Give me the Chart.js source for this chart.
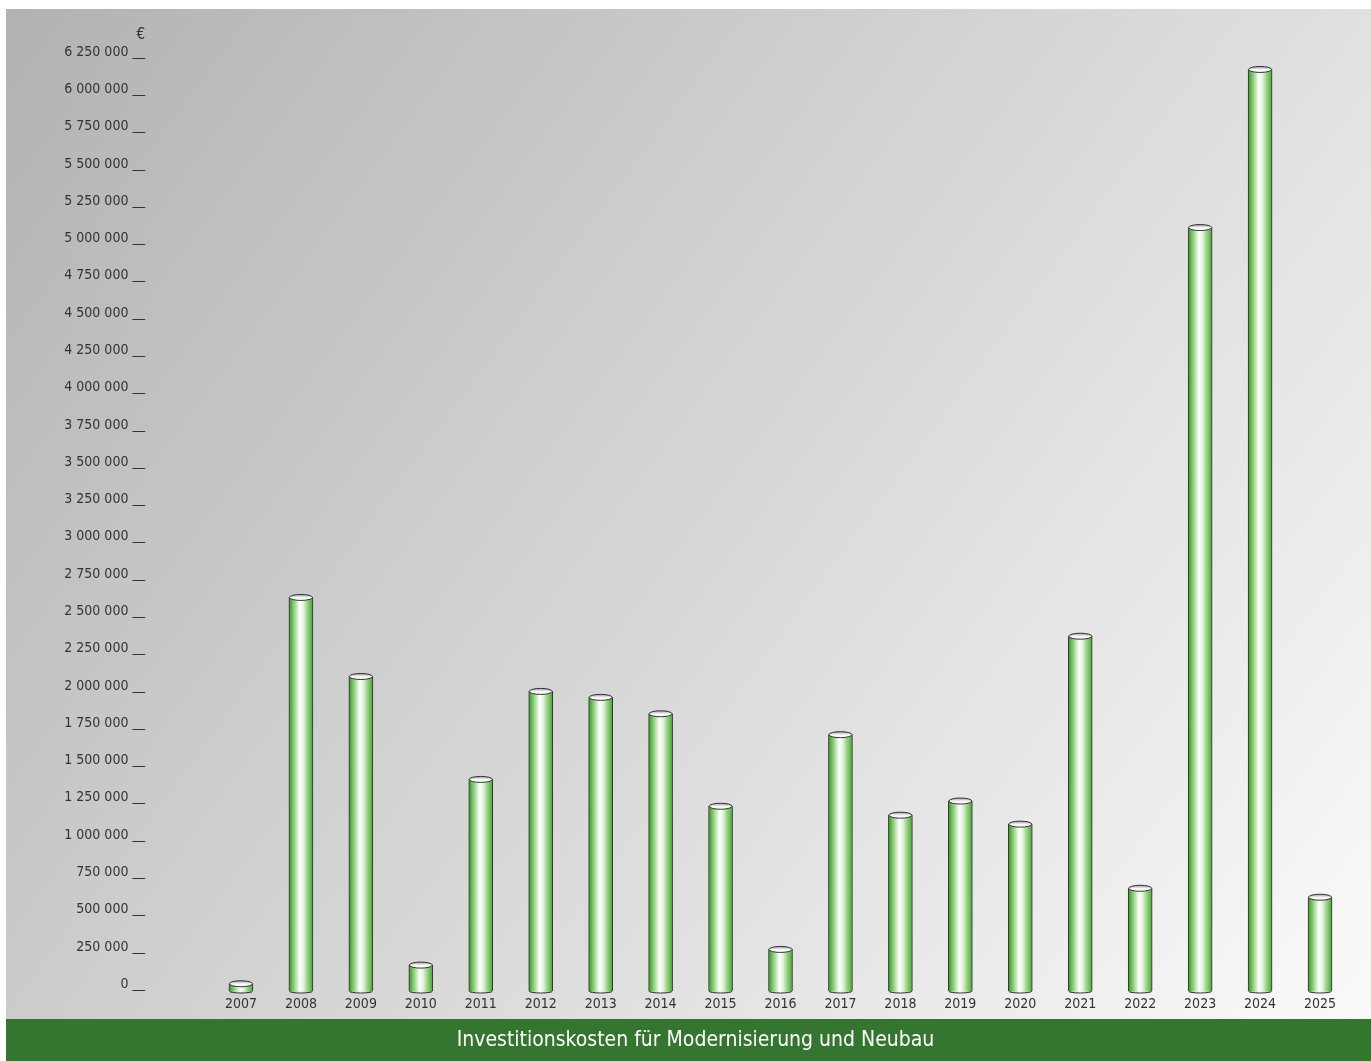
<!DOCTYPE html>
<html>
<head>
<meta charset="utf-8">
<script src="https://cdn.jsdelivr.net/npm/chart.js@4.4.1/dist/chart.umd.min.js"></script>
<style>
  html, body { margin: 0; padding: 0; background: #ffffff; }
  #wrap { position: absolute; left: 6px; top: 9px; width: 1365px; height: 1052px; }
</style>
</head>
<body>
<div id="wrap"><canvas id="invest"></canvas></div>
<script>
// Data
const years = ['2007', '2008', '2009', '2010', '2011', '2012', '2013', '2014', '2015', '2016',
               '2017', '2018', '2019', '2020', '2021', '2022', '2023', '2024', '2025'];
const costs = [50000, 2640000, 2110000, 175000, 1420000, 2010000, 1970000, 1860000, 1240000, 280000,
               1720000, 1180000, 1275000, 1120000, 2380000, 690000, 5120000, 6180000, 630000];
const yMax = 6250000;
const yStep = 250000;
const currencyLabel = '€';
const chartTitle = 'Investitionskosten für Modernisierung und Neubau';

const FONT = '"Liberation Sans Narrow", "DejaVu Sans Condensed", "Liberation Sans", sans-serif';
const BAR_W = 24;
const BAND_H = 42;
const LABEL_GAP = 66;

function formatNumber(v) {
    return String(v).replace(/\B(?=(\d{3})+(?!\d))/g, ' ');
}

// horizontal cylinder shading for one bar
function barGradient(ctx, x, w) {
    const g = ctx.createLinearGradient(x - w / 2, 0, x + w / 2, 0);
    g.addColorStop(0, '#3f8f30');
    g.addColorStop(0.1, '#5fb14a');
    g.addColorStop(0.25, '#a0d88f');
    g.addColorStop(0.45, '#ffffff');
    g.addColorStop(0.6, '#e4f4de');
    g.addColorStop(0.78, '#94d182');
    g.addColorStop(0.92, '#64b650');
    g.addColorStop(1, '#48983a');
    return g;
}

// background gradient + green title band
const backdrop = {
    id: 'backdrop',
    beforeDraw(chart) {
        const { ctx, width, height } = chart;
        const bgH = height - BAND_H;
        ctx.save();
        const g = ctx.createLinearGradient(0, 0, width, bgH);
        g.addColorStop(0, '#b2b2b2');
        g.addColorStop(1, '#fafafa');
        ctx.fillStyle = g;
        ctx.fillRect(0, 0, width, bgH);
        ctx.fillStyle = '#34752f';
        ctx.fillRect(0, bgH, width, BAND_H);
        ctx.fillStyle = '#ffffff';
        ctx.font = '21px ' + FONT;
        ctx.textAlign = 'center';
        ctx.textBaseline = 'middle';
        ctx.fillText(chartTitle, width / 2 + 7, bgH + BAND_H / 2 + 1);
        ctx.restore();
    }
};

// cylinder caps and the euro sign above the axis
const cylinders = {
    id: 'cylinders',
    afterDatasetsDraw(chart) {
        const ctx = chart.ctx;
        const meta = chart.getDatasetMeta(0);
        ctx.save();
        ctx.lineWidth = 1;
        ctx.strokeStyle = '#333333';
        meta.data.forEach(bar => {
            const { x, y, base, width } = bar.getProps(['x', 'y', 'base', 'width'], true);
            const rx = width / 2 - 0.5;
            const ry = 3;
            // rounded bottom
            ctx.beginPath();
            ctx.ellipse(x, base, rx, 1.8, 0, 0, Math.PI);
            ctx.closePath();
            ctx.fillStyle = barGradient(ctx, x, width);
            ctx.fill();
            ctx.beginPath();
            ctx.ellipse(x, base, rx, 1.8, 0, 0, Math.PI);
            ctx.stroke();
            // top cap
            const cg = ctx.createLinearGradient(0, y - ry, 0, y + ry);
            cg.addColorStop(0, '#9a9a9a');
            cg.addColorStop(0.5, '#f4f4f4');
            cg.addColorStop(1, '#ffffff');
            ctx.beginPath();
            ctx.ellipse(x, y, rx, ry, 0, 0, Math.PI * 2);
            ctx.fillStyle = cg;
            ctx.fill();
            ctx.stroke();
        });
        const ys = chart.scales.y;
        ctx.fillStyle = '#333333';
        ctx.font = '15px ' + FONT;
        ctx.textAlign = 'right';
        ctx.textBaseline = 'middle';
        ctx.fillText(currencyLabel, ys.right - LABEL_GAP, ys.getPixelForValue(yMax) - 24);
        ctx.restore();
    }
};

const chart = new Chart(document.getElementById('invest'), {
    type: 'bar',
    data: {
        labels: years,
        datasets: [{
            data: costs,
            barThickness: BAR_W,
            borderWidth: 1,
            borderColor: '#333333',
            borderSkipped: 'start',
            backgroundColor: function(context) {
                const c = context.chart;
                const xs = c.scales && c.scales.x;
                const x = xs ? xs.getPixelForValue(context.dataIndex) : NaN;
                if (!Number.isFinite(x)) return '#86c874';
                return barGradient(c.ctx, x, BAR_W);
            }
        }]
    },
    options: {
        responsive: true,
        maintainAspectRatio: false,
        animation: false,
        layout: {
            padding: { top: 50, right: 21, bottom: 43, left: 0 }
        },
        scales: {
            x: {
                grid: { display: false, drawTicks: false },
                border: { display: false },
                ticks: {
                    color: '#333333',
                    font: { family: FONT, size: 14 },
                    padding: 5,
                    maxRotation: 0,
                    autoSkip: false
                }
            },
            y: {
                min: 0,
                max: yMax,
                afterFit: function(scale) {
                    scale.width = 205;
                    scale.paddingTop = 0;
                    scale.paddingBottom = 0;
                },
                grid: { display: false, drawTicks: false },
                border: { display: false },
                ticks: {
                    stepSize: yStep,
                    autoSkip: false,
                    color: '#333333',
                    font: { family: FONT, size: 14 },
                    padding: LABEL_GAP,
                    labelOffset: -7,
                    callback: function(value) {
                        return formatNumber(value) + ' __';
                    }
                }
            }
        },
        plugins: {
            legend: { display: false },
            tooltip: { enabled: false }
        }
    },
    plugins: [backdrop, cylinders]
});
</script>
</body>
</html>
